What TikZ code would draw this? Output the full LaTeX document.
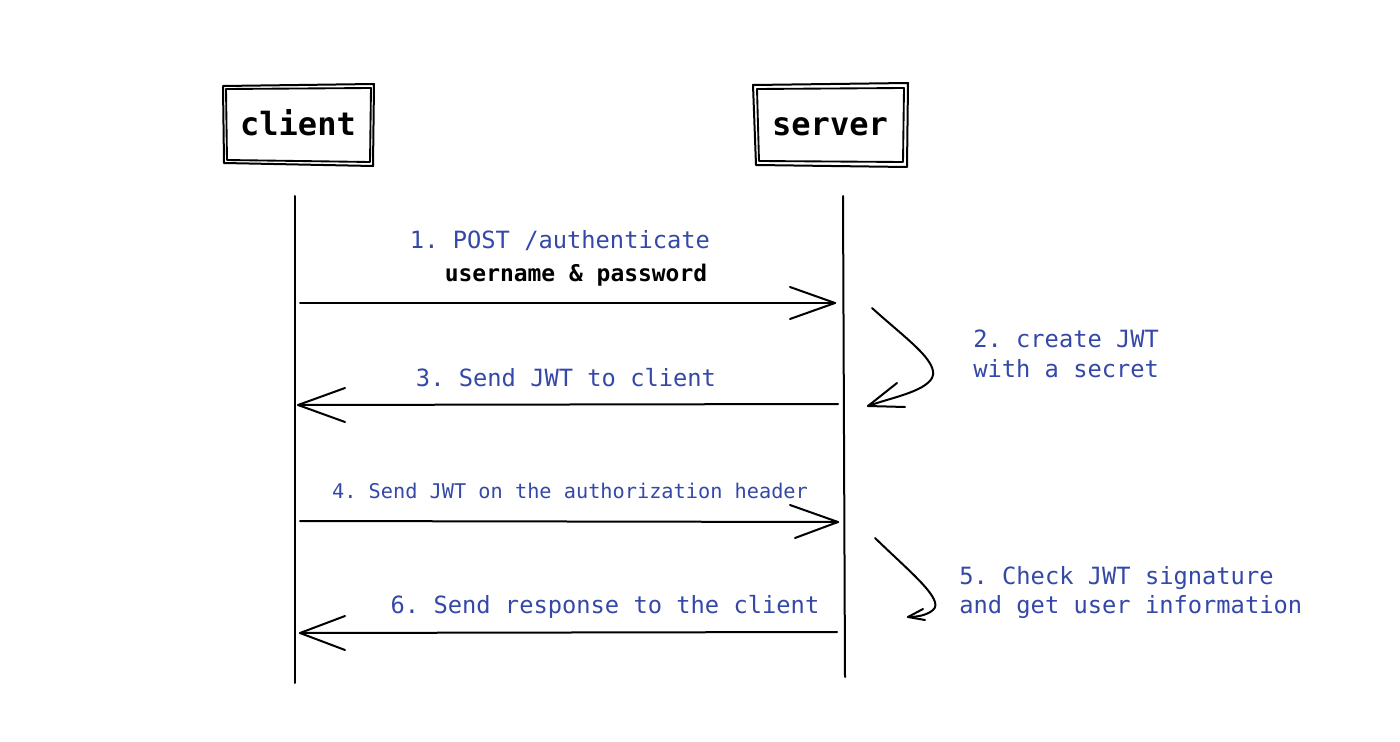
\documentclass[tikz,border=0pt]{standalone}
\usepackage{fontspec}
\setmonofont{DejaVu Sans Mono}
\definecolor{lblue}{RGB}{52,72,168}
\begin{document}
\begin{tikzpicture}[x=0.75pt,y=-0.75pt,
  sk/.style={line width=1.5pt,black,line cap=round,line join=round},
  thin/.style={line width=1.4pt,black,line cap=round,line join=round},
  boxlbl/.style={font=\ttfamily\bfseries\fontsize{24}{28}\selectfont,anchor=base,inner sep=0},
  lbl/.style={font=\ttfamily\fontsize{17.8}{21}\selectfont,text=lblue,anchor=base,inner sep=0},
  lbll/.style={lbl,anchor=base west},
  blk/.style={font=\ttfamily\bfseries\fontsize{17.2}{21}\selectfont,text=black,anchor=base,inner sep=0},
  small/.style={font=\ttfamily\fontsize{15.2}{18}\selectfont,text=lblue,anchor=base,inner sep=0}]
\useasboundingbox[fill=white] (0,0) rectangle (1400,742);

% boxes
\draw[sk] (223,86) -- (374,84) -- (373,166) -- (224,163) -- cycle;
\draw[thin] (226,89) -- (371,88) -- (370,162) -- (227,160) -- cycle;
\node[boxlbl] (client) at (298,135) {client};
\draw[sk] (753,85) -- (908,83) -- (907,167) -- (756,165) -- cycle;
\draw[thin] (757,89) -- (904,88) -- (903,162) -- (759,161) -- cycle;
\node[boxlbl] (server) at (830,135) {server};

% lifelines
\coordinate (ct) at (295,196);
\coordinate (cb) at (295,683);
\coordinate (st) at (843,196);
\coordinate (sb) at (845,677);
\draw[sk] (ct) -- (cb);
\draw[sk] (st) -- (sb);

% arrow 1
\coordinate (a1s) at (300,303);
\coordinate (a1e) at (835,303);
\draw[sk] (a1s) -- (a1e);
\draw[sk] (790,287) -- (a1e) -- (790,319);
\node[lbl] (l1) at (560,248) {1. POST /authenticate};
\node[blk] (l1b) at (576,281) {username \& password};

% arrow 2 (curved)
\coordinate (a2s) at (872,308);
\coordinate (a2e) at (868,406);
\draw[sk] (a2s) .. controls (905,338) and (940,362) .. (932,378) .. controls (924,392) and (890,398) .. (a2e);
\draw[sk] (897,383) -- (a2e) -- (905,407);
\node[lbll] (l2a) at (973,347) {2. create JWT};
\node[lbll] (l2b) at (973,377) {with a secret};

% arrow 3
\coordinate (a3s) at (838,404);
\coordinate (a3e) at (298,405);
\draw[sk] (a3s) -- (a3e);
\draw[sk] (345,388) -- (a3e) -- (345,422);
\node[lbl] (l3) at (566,386) {3. Send JWT to client};

% arrow 4
\coordinate (a4s) at (300,521);
\coordinate (a4e) at (838,522);
\draw[sk] (a4s) -- (a4e);
\draw[sk] (790,505) -- (a4e) -- (795,538);
\node[small] (l4) at (570,498) {4. Send JWT on the authorization header};

% arrow 5 (curved)
\coordinate (a5s) at (875,538);
\coordinate (a5e) at (908,617);
\draw[sk] (a5s) .. controls (910,572) and (945,600) .. (933,610) .. controls (926,616) and (915,617) .. (a5e);
\draw[sk] (923,609) -- (a5e) -- (925,620);
\node[lbll] (l5a) at (959,584) {5. Check JWT signature};
\node[lbll] (l5b) at (959,613) {and get user information};

% arrow 6
\coordinate (a6s) at (837,632);
\coordinate (a6e) at (300,633);
\draw[sk] (a6s) -- (a6e);
\draw[sk] (345,616) -- (a6e) -- (345,650);
\node[lbl] (l6) at (605,613) {6. Send response to the client};
\end{tikzpicture}
\end{document}
